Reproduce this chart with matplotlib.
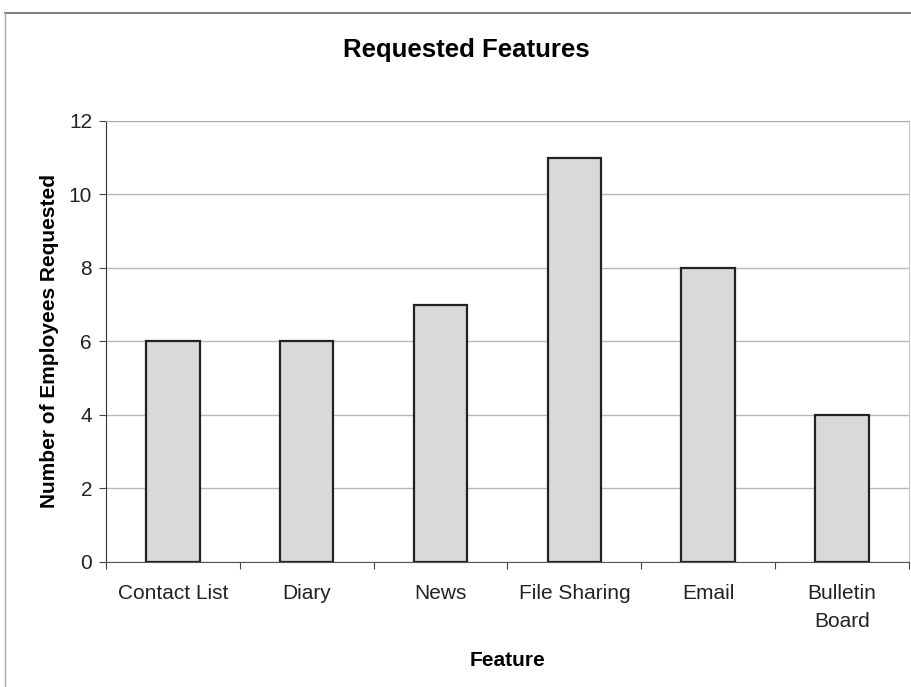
import matplotlib.pyplot as plt
from matplotlib.lines import Line2D

features = ["Contact List", "Diary", "News", "File Sharing", "Email",
            "Bulletin\nBoard"]
employees = [6, 6, 7, 11, 8, 4]
y_ticks = [0, 2, 4, 6, 8, 10, 12]

plt.rcParams['font.family'] = ['Liberation Sans', 'DejaVu Sans']

fig = plt.figure(figsize=(9.12, 6.87), dpi=100)
ax = fig.add_axes([0.1162, 0.182, 0.8805, 0.6419])

x = range(len(features))
ax.bar(x, employees, width=0.4, color="#d9d9d9", edgecolor="#222222",
       linewidth=1.6, zorder=3)

ax.set_xlim(-0.5, len(features) - 0.5)
ax.set_ylim(0, 12)
ax.set_yticks(y_ticks)
ax.tick_params(axis='y', length=5, width=0.8, color="#444444",
               labelsize=15, pad=5, labelcolor="#222222")
ax.set_xticks(list(x))
ax.set_xticklabels(features, fontsize=15, linespacing=1.6, color="#222222")
ax.tick_params(axis='x', length=0, pad=16)
# category separators below the axis
ax.set_xticks([i + 0.5 for i in range(-1, len(features))], minor=True)
ax.tick_params(axis='x', which='minor', length=5, width=0.8,
               color="#444444")

ax.grid(axis='y', color="#b8b8b8", linewidth=1.0, zorder=0)
ax.spines['left'].set_color("#333333")
ax.spines['bottom'].set_color("#555555")
ax.spines['top'].set_color("#aaaaaa")
ax.spines['top'].set_linestyle((0, (1, 1)))
ax.spines['right'].set_color("#c8c8c8")

ax.set_ylabel("Number of Employees Requested", fontsize=15,
              fontweight='bold', labelpad=7)
ax.set_xlabel("Feature", fontsize=15, fontweight='bold', labelpad=14)
fig.text(0.511, 0.927, "Requested Features", fontsize=18.5,
         fontweight='bold', ha='center', va='center')

# frame around the chart
fig.add_artist(Line2D([0.006, 1.0], [0.981, 0.981], color="#666666",
                      linewidth=1.2))
fig.add_artist(Line2D([0.006, 0.006], [0.0, 0.981], color="#aaaaaa",
                      linewidth=1.0))

fig.savefig("out.png", dpi=100)
